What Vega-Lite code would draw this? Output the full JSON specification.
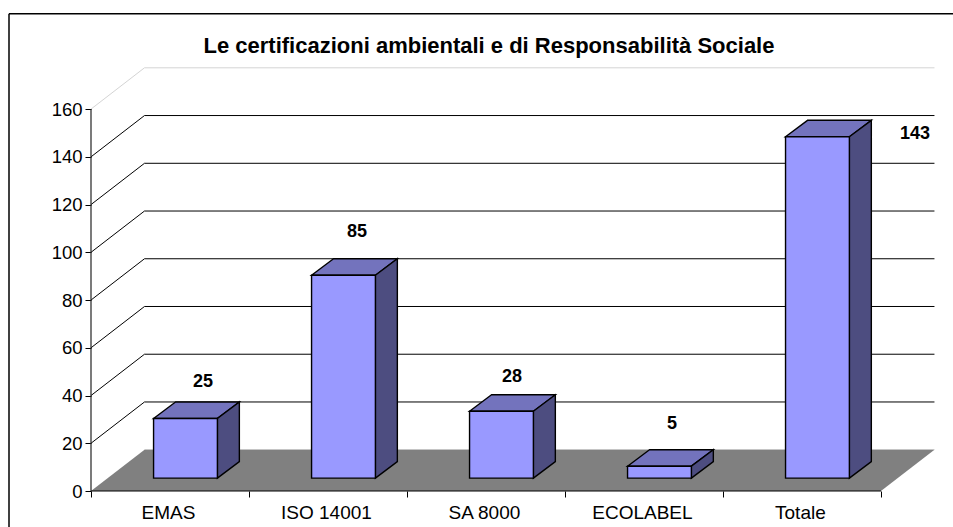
{
"$schema":"https://vega.github.io/schema/vega-lite/v6.json",
"width":844,"height":422,
"autosize":{"type":"none"},
"padding":{"left":91,"top":69,"right":18,"bottom":36},
"background":"white",
"config":{"view":{"stroke":null}},
"datasets":{
"bars":[
{"category":"EMAS","index":0,"value":25},
{"category":"ISO 14001","index":1,"value":85},
{"category":"SA 8000","index":2,"value":28},
{"category":"ECOLABEL","index":3,"value":5},
{"category":"Totale","index":4,"value":143}],
"ticks":[{"tick":0},{"tick":20},{"tick":40},{"tick":60},{"tick":80},{"tick":100},{"tick":120},{"tick":140},{"tick":160}]
},
"layer":[
{"data":{"name":"ticks"},
 "transform":[{"calculate":"0.3386","as":"du"},{"calculate":"17.3+datum.tick","as":"yb"},{"calculate":"5+datum.du","as":"xe"},{"calculate":"0","as":"x0"}],
 "mark":{"type":"rule","strokeWidth":1},
 "encoding":{
  "x":{"field":"du","type":"quantitative","scale":{"domain":[0,5.342],"nice":false,"zero":false},"axis":{"values":[0,1,2,3,4,5],"labels":false,"domain":false,"grid":false,"title":null,"tickSize":6,"tickColor":"#000"}},
  "x2":{"field":"xe"},
  "y":{"field":"yb","type":"quantitative","scale":{"domain":[0,176.8],"nice":false,"zero":false},"axis":{"values":[0,20,40,60,80,100,120,140,160],"domain":false,"grid":false,"title":null,"tickSize":6,"tickColor":"#000","labelFont":"Liberation Sans","labelFontSize":18.5,"labelColor":"#000","labelPadding":3}},
  "color":{"condition":{"test":"datum.tick==160||datum.tick==0","value":"#d4d4d4"},"value":"#000"}
 }},
{"data":{"name":"ticks"},
 "transform":[{"filter":"datum.tick>0"},{"calculate":"0.3386","as":"du"},{"calculate":"17.3+datum.tick","as":"yb"},{"calculate":"0","as":"x0"}],
 "mark":{"type":"rule","strokeWidth":1},
 "encoding":{
  "x":{"field":"x0","type":"quantitative"},"x2":{"field":"du"},
  "y":{"field":"tick","type":"quantitative"},"y2":{"field":"yb"},
  "color":{"condition":{"test":"datum.tick==160","value":"#d4d4d4"},"value":"#000"}
 }},
{"data":{"values":[{"depth":0},{"depth":1}]},
 "transform":[{"calculate":"0.3386*datum.depth","as":"xa"},{"calculate":"5+datum.xa","as":"xb"},{"calculate":"17.3*datum.depth","as":"ya"}],
 "mark":{"type":"area","orient":"horizontal","color":"#808080"},
 "encoding":{"y":{"field":"ya","type":"quantitative"},"x":{"field":"xa","type":"quantitative"},"x2":{"field":"xb"}}},
{"data":{"values":[{"a":0,"b":5,"c":0}]},
 "mark":{"type":"rule","color":"#000","strokeWidth":1.2},
 "encoding":{"x":{"field":"a","type":"quantitative"},"x2":{"field":"b"},"y":{"field":"c","type":"quantitative"}}},
{"data":{"values":[{"a":0,"c":0,"d":160}]},
 "mark":{"type":"rule","color":"#222","strokeWidth":1.2},
 "encoding":{"x":{"field":"a","type":"quantitative"},"y":{"field":"c","type":"quantitative"},"y2":{"field":"d"}}},
{"data":{"values":[{"l":-0.519,"r":5.456,"t":199.9}]},
 "mark":{"type":"rule","color":"#000","strokeWidth":1.5,"clip":false},
 "encoding":{"x":{"field":"l","type":"quantitative"},"x2":{"field":"r"},"y":{"field":"t","type":"quantitative"}}},
{"data":{"values":[{"l":-0.519,"b":-16,"t":199.9}]},
 "mark":{"type":"rule","color":"#000","strokeWidth":1.5,"clip":false},
 "encoding":{"x":{"field":"l","type":"quantitative"},"y":{"field":"b","type":"quantitative"},"y2":{"field":"t"}}},
{"data":{"name":"bars"},
 "transform":[{"calculate":"[0,1]","as":"t"},{"flatten":["t"]},
  {"calculate":"datum.index+0.396+0.139*datum.t","as":"xl"},
  {"calculate":"datum.index+0.80+0.139*datum.t","as":"xr"},
  {"calculate":"5.4+datum.value+6.9*datum.t","as":"yt"}],
 "mark":{"type":"area","orient":"horizontal","color":"#7373bd","stroke":"#000","strokeWidth":1.4},
 "encoding":{"y":{"field":"yt","type":"quantitative"},"x":{"field":"xl","type":"quantitative"},"x2":{"field":"xr"},"detail":{"field":"category"}}},
{"data":{"name":"bars"},
 "transform":[{"calculate":"[0,1]","as":"t"},{"flatten":["t"]},
  {"calculate":"datum.index+0.80+0.139*datum.t","as":"xr"},
  {"calculate":"5.4+6.9*datum.t","as":"yb"},
  {"calculate":"5.4+datum.value+6.9*datum.t","as":"yt"}],
 "mark":{"type":"area","orient":"vertical","color":"#4d4d80","stroke":"#000","strokeWidth":1.4},
 "encoding":{"x":{"field":"xr","type":"quantitative"},"y":{"field":"yb","type":"quantitative"},"y2":{"field":"yt"},"detail":{"field":"category"}}},
{"data":{"name":"bars"},
 "transform":[
  {"calculate":"datum.index+0.396","as":"xl"},
  {"calculate":"datum.index+0.80","as":"xr"},
  {"calculate":"5.4","as":"yb"},
  {"calculate":"5.4+datum.value","as":"yt"}],
 "mark":{"type":"rect","color":"#9999ff","stroke":"#000","strokeWidth":1.4},
 "encoding":{"x":{"field":"xl","type":"quantitative"},"x2":{"field":"xr"},"y":{"field":"yb","type":"quantitative"},"y2":{"field":"yt"}}},
{"data":{"name":"bars"},
 "transform":[{"calculate":"datum.index+0.49","as":"xc"},{"calculate":"0","as":"y0"}],
 "mark":{"type":"text","font":"Liberation Sans","fontSize":19,"color":"#000","dy":22,"baseline":"middle"},
 "encoding":{"x":{"field":"xc","type":"quantitative"},"y":{"field":"y0","type":"quantitative"},"text":{"field":"category"}}},
{"data":{"name":"bars"},
 "transform":[
  {"calculate":"{'EMAS':0.709,'ISO 14001':1.684,'SA 8000':2.665,'ECOLABEL':3.677,'Totale':5.215}[datum.category]","as":"xc"},
  {"calculate":"{'EMAS':45.8,'ISO 14001':108.5,'SA 8000':47.9,'ECOLABEL':28.2,'Totale':149.6}[datum.category]","as":"yc"}],
 "mark":{"type":"text","font":"Liberation Sans","fontSize":18,"fontWeight":"bold","color":"#000","baseline":"middle"},
 "encoding":{"x":{"field":"xc","type":"quantitative"},"y":{"field":"yc","type":"quantitative"},"text":{"field":"value","type":"quantitative"}}},
{"data":{"values":[{"label":"Le certificazioni ambientali e di Responsabilità Sociale","xc":2.519,"yc":186.3}]},
 "mark":{"type":"text","font":"Liberation Sans","fontSize":22,"fontWeight":"bold","color":"#000","baseline":"middle"},
 "encoding":{"x":{"field":"xc","type":"quantitative"},"y":{"field":"yc","type":"quantitative"},"text":{"field":"label"}}}
]
}
